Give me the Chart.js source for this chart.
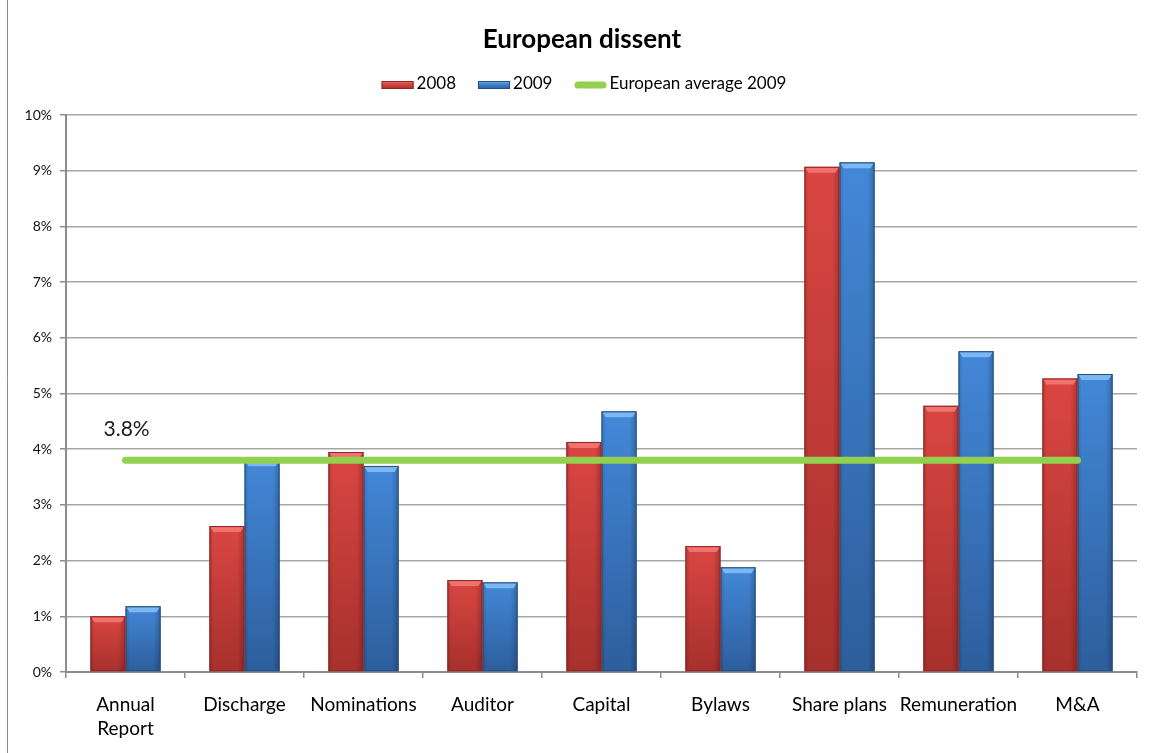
<!DOCTYPE html>
<html>
<head>
<meta charset="utf-8">
<title>European dissent</title>
<script src="https://cdn.jsdelivr.net/npm/chart.js@4/dist/chart.umd.min.js"></script>
<style>
  html, body { margin: 0; padding: 0; background: #ffffff; }
  #wrap { width: 1150px; height: 753px; position: relative; }
  canvas { display: block; }
</style>
</head>
<body>
<div id="wrap"><canvas id="chart" width="1150" height="753"></canvas></div>
<script>
// Resolution categories and dissent levels (percent of votes cast)
const categories = [['Annual', 'Report'], 'Discharge', 'Nominations', 'Auditor', 'Capital', 'Bylaws', 'Share plans', 'Remuneration', 'M&A'];
const dissent2008 = [1.00, 2.62, 3.95, 1.65, 4.13, 2.26, 9.07, 4.78, 5.27];
const dissent2009 = [1.18, 3.80, 3.70, 1.61, 4.68, 1.88, 9.15, 5.76, 5.35];
const europeanAverage2009 = [3.8, 3.8, 3.8, 3.8, 3.8, 3.8, 3.8, 3.8, 3.8];
const yTickValues = [0, 1, 2, 3, 4, 5, 6, 7, 8, 9, 10];

const FONT = 'Lato, "Open Sans", "DejaVu Sans", sans-serif';

const palette = {
  red:  { top: '#da4642', bottom: '#a6302d', cap: '#f47a76', edge: '#8e2623' },
  blue: { top: '#4388d8', bottom: '#2d5e9c', cap: '#86c0f6', edge: '#25507f' }
};

// Per-bar vertical gradient, resolved from the bar's own value on the y scale
function barFill(tone) {
  return function (ctx) {
    const chart = ctx.chart;
    const ys = chart.scales.y;
    if (!chart.chartArea || !ys || ctx.parsed === undefined) return tone.top;
    const top = ys.getPixelForValue(ctx.parsed.y);
    const bottom = ys.getPixelForValue(0);
    const g = chart.ctx.createLinearGradient(0, top, 0, bottom);
    g.addColorStop(0, tone.top);
    g.addColorStop(1, tone.bottom);
    return g;
  };
}

// Side shading and the light bevel along the top of every bar
const bevelPlugin = {
  id: 'bevel',
  afterDatasetDraw(chart, args) {
    const ds = chart.data.datasets[args.index];
    if (!ds.tone) return;
    const ctx = chart.ctx;
    const tone = ds.tone;
    args.meta.data.forEach(el => {
      const p = el.getProps(['x', 'y', 'base', 'width'], true);
      const l = p.x - p.width / 2, r = p.x + p.width / 2;
      const t = p.y, b = p.base;
      if (b - t < 2) return;
      ctx.save();
      const h = ctx.createLinearGradient(l, 0, r, 0);
      h.addColorStop(0, 'rgba(0,0,0,0.16)');
      h.addColorStop(0.12, 'rgba(0,0,0,0)');
      h.addColorStop(0.8, 'rgba(0,0,0,0)');
      h.addColorStop(1, 'rgba(0,0,0,0.22)');
      ctx.fillStyle = h;
      ctx.fillRect(l, t, r - l, b - t);
      const capH = Math.min(6, (b - t) / 2);
      ctx.beginPath();
      ctx.moveTo(l + 1, t + 1);
      ctx.lineTo(r - 1, t + 1);
      ctx.lineTo(r - 4, t + capH);
      ctx.lineTo(l + 4, t + capH);
      ctx.closePath();
      ctx.fillStyle = tone.cap;
      ctx.globalAlpha = 0.85;
      ctx.fill();
      ctx.globalAlpha = 1;
      ctx.strokeStyle = tone.edge;
      ctx.lineWidth = 1;
      ctx.strokeRect(l + 0.5, t + 0.5, r - l - 1, b - t - 1);
      ctx.restore();
    });
  }
};

// Title, legend, value annotation and frame
const decorPlugin = {
  id: 'decor',
  afterDraw(chart) {
    const ctx = chart.ctx;
    const ds = chart.data.datasets;
    ctx.save();
    // frame
    ctx.strokeStyle = '#8c8c8c';
    ctx.lineWidth = 1;
    ctx.beginPath();
    ctx.moveTo(7.5, 0); ctx.lineTo(7.5, 753);
    ctx.stroke();

    // title
    ctx.fillStyle = '#000';
    ctx.font = 'bold 26px ' + FONT;
    ctx.textAlign = 'center';
    ctx.textBaseline = 'alphabetic';
    ctx.fillText('European dissent', 582, 48);

    // legend
    ctx.font = '17px ' + FONT;
    ctx.textAlign = 'left';
    ctx.textBaseline = 'middle';
    const sw = 32, gapSwatch = 3, gapItem = 22;
    const widths = ds.map(d => sw + gapSwatch + ctx.measureText(d.label).width);
    const total = widths.reduce((a, b) => a + b, 0) + gapItem * (ds.length - 1);
    let x = 584 - total / 2;
    const ly = 84;
    ds.forEach((d, i) => {
      if (d.tone) {
        const g = ctx.createLinearGradient(0, ly - 3, 0, ly + 5);
        g.addColorStop(0, d.tone.cap);
        g.addColorStop(0.35, d.tone.top);
        g.addColorStop(1, d.tone.bottom);
        ctx.fillStyle = g;
        ctx.fillRect(x, ly - 3, sw, 8);
        ctx.strokeStyle = d.tone.edge;
        ctx.strokeRect(x + 0.5, ly - 2.5, sw - 1, 7);
      } else {
        ctx.strokeStyle = d.borderColor;
        ctx.lineWidth = 7;
        ctx.lineCap = 'round';
        ctx.beginPath();
        ctx.moveTo(x + 3.5, ly + 1);
        ctx.lineTo(x + sw - 3.5, ly + 1);
        ctx.stroke();
        ctx.lineWidth = 1;
      }
      ctx.fillStyle = '#000';
      ctx.fillText(d.label, x + sw + gapSwatch, ly);
      x += widths[i] + gapItem;
    });

    // average annotation
    const xs = chart.scales.x, ys = chart.scales.y;
    const avg = europeanAverage2009[0];
    ctx.font = '21px ' + FONT;
    ctx.textAlign = 'left';
    ctx.textBaseline = 'alphabetic';
    ctx.fillStyle = '#1a1a1a';
    ctx.fillText(avg.toFixed(1) + '%', xs.getPixelForValue(0) - 22, ys.getPixelForValue(avg) - 24);
    ctx.restore();
  }
};

const chart = new Chart(document.getElementById('chart'), {
  type: 'bar',
  data: {
    labels: categories,
    datasets: [
      {
        type: 'bar',
        label: '2008',
        data: dissent2008,
        tone: palette.red,
        backgroundColor: barFill(palette.red),
        borderWidth: 0,
        categoryPercentage: 0.59,
        barPercentage: 1.0,
        order: 1
      },
      {
        type: 'bar',
        label: '2009',
        data: dissent2009,
        tone: palette.blue,
        backgroundColor: barFill(palette.blue),
        borderWidth: 0,
        categoryPercentage: 0.59,
        barPercentage: 1.0,
        order: 1
      },
      {
        type: 'line',
        label: 'European average 2009',
        data: europeanAverage2009,
        borderColor: '#92d050',
        backgroundColor: '#92d050',
        borderWidth: 7,
        borderCapStyle: 'round',
        pointRadius: 0,
        pointHoverRadius: 0,
        fill: false,
        tension: 0,
        order: 0
      }
    ]
  },
  options: {
    responsive: false,
    animation: false,
    devicePixelRatio: 1,
    layout: { padding: { top: 115, left: 0, right: 13, bottom: 0 } },
    plugins: {
      legend: { display: false },
      title: { display: false },
      tooltip: { enabled: false }
    },
    scales: {
      x: {
        offset: true,
        grid: {
          display: true,
          drawOnChartArea: false,
          drawTicks: true,
          tickLength: 6,
          offset: true,
          color: '#8c8c8c',
          lineWidth: 1.5
        },
        border: { display: true, color: '#8c8c8c', width: 2 },
        ticks: {
          color: '#000',
          font: { family: FONT, size: 19, lineHeight: 1.27 },
          padding: 15,
          maxRotation: 0,
          autoSkip: false
        },
        afterFit(scale) { scale.height = 81; }
      },
      y: {
        min: 0,
        max: 10,
        afterBuildTicks(scale) { scale.ticks = yTickValues.map(v => ({ value: v })); },
        grid: {
          color: '#a6a6a6',
          lineWidth: 1.5,
          drawTicks: true,
          tickLength: 6,
          tickColor: '#8c8c8c'
        },
        border: { display: true, color: '#8c8c8c', width: 2 },
        ticks: {
          color: '#111',
          font: { family: FONT, size: 14 },
          padding: 8,
          callback: v => v + '%'
        },
        afterFit(scale) { scale.width = 66; }
      }
    }
  },
  plugins: [bevelPlugin, decorPlugin]
});
</script>
</body>
</html>
